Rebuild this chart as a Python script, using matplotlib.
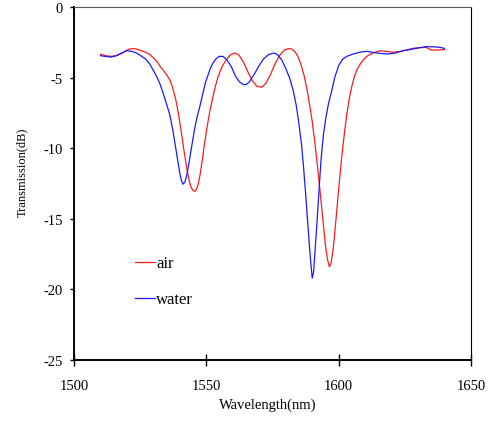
import matplotlib
matplotlib.use("Agg")
import matplotlib.pyplot as plt

# air spectrum (nm, dB)
air_wl = [1510, 1512, 1514, 1516, 1518, 1519.5, 1521, 1522.5, 1524, 1525.5, 1527, 1528.5,
          1530, 1531.3, 1532.5, 1533.8, 1535, 1536.3, 1537.4, 1538.5, 1539.5, 1540.5,
          1541.5, 1542.5, 1543.5, 1544.3, 1545, 1545.7, 1546.3, 1547, 1547.7, 1548.5,
          1549.3, 1550.2, 1551.2, 1552.2, 1553.3, 1554.5, 1556, 1557.5, 1559, 1560.8,
          1562.3, 1564, 1565.7, 1567.3, 1569, 1570.9, 1572.5, 1574.2, 1576, 1577.8,
          1579.5, 1581, 1582.2, 1583.4, 1584.6, 1585.8, 1587, 1588, 1589, 1590, 1591,
          1592, 1593, 1594, 1595, 1595.8, 1596.5, 1597.2, 1598, 1599, 1600, 1601, 1602,
          1603, 1604, 1605, 1606, 1607, 1608.3, 1609.5, 1611, 1613, 1615.6, 1618,
          1620.6, 1623, 1625.5, 1628, 1630.5, 1633, 1635, 1637, 1640]
air_db = [-3.35, -3.45, -3.5, -3.45, -3.3, -3.1, -2.97, -2.95, -3.0, -3.1, -3.2, -3.35,
          -3.6, -3.85, -4.2, -4.5, -4.8, -5.2, -5.8, -6.6, -7.6, -8.8, -10.1, -11.3,
          -12.3, -12.8, -13.0, -13.05, -12.9, -12.5, -11.8, -10.8, -9.7, -8.6, -7.5,
          -6.6, -5.7, -4.9, -4.2, -3.75, -3.4, -3.26, -3.4, -3.9, -4.6, -5.2, -5.6,
          -5.69, -5.4, -4.8, -4.0, -3.4, -3.05, -2.95, -2.97, -3.15, -3.5, -4.1, -4.9,
          -5.8, -6.9, -8.1, -9.6, -11.3, -13.1, -15.0, -16.9, -17.9, -18.4, -18.1,
          -17.0, -15.0, -12.9, -10.9, -9.2, -7.7, -6.5, -5.6, -4.9, -4.4, -4.0, -3.7,
          -3.45, -3.25, -3.1, -3.15, -3.2, -3.15, -3.05, -2.93, -2.88, -2.86, -3.05,
          -3.05, -3.02]

# water spectrum (nm, dB)
water_wl = [1510, 1512, 1514, 1516, 1518, 1520, 1522, 1523.5, 1525, 1527, 1528.5, 1530,
            1531.3, 1532.5, 1533.5, 1534.5, 1535.5, 1536.3, 1537.4, 1538.5, 1539.3, 1540,
            1540.6, 1541.2, 1541.9, 1542.6, 1543.3, 1544, 1544.8, 1545.6, 1546.5, 1547.6,
            1548.6, 1549.6, 1550.5, 1551.4, 1552.4, 1553.5, 1554.8, 1556.3, 1557.8,
            1559.5, 1561, 1562.5, 1564, 1565, 1566.3, 1568, 1569.8, 1571.5, 1573.3,
            1575, 1575.9, 1577, 1578.5, 1580, 1581.6, 1582.8, 1584, 1585, 1586, 1586.8,
            1587.5, 1588.2, 1588.9, 1589.5, 1590, 1590.5, 1591.1, 1591.9, 1592.6, 1593.3,
            1594.2, 1595.2, 1596.2, 1597.3, 1598.5, 1600, 1601.5, 1603, 1605.5, 1608,
            1610.6, 1614, 1618.1, 1621, 1624.4, 1628, 1631, 1633.2, 1635.5, 1638, 1640]
water_db = [-3.45, -3.5, -3.55, -3.45, -3.25, -3.1, -3.15, -3.25, -3.42, -3.68, -4.0,
            -4.5, -4.95, -5.45, -6.0, -6.6, -7.2, -7.7, -8.8, -10.06, -11.0, -11.8,
            -12.3, -12.55, -12.4, -11.9, -11.2, -10.4, -9.5, -8.6, -7.8, -7.0, -6.2,
            -5.4, -4.9, -4.4, -4.0, -3.7, -3.5, -3.5, -3.75, -4.25, -4.9, -5.3, -5.5,
            -5.5, -5.3, -4.8, -4.2, -3.7, -3.4, -3.28, -3.28, -3.4, -3.75, -4.35, -5.1,
            -5.9, -7.0, -8.3, -9.8, -11.5, -13.2, -15.0, -16.8, -18.2, -19.2, -18.8,
            -17.2, -15.0, -12.9, -10.9, -9.1, -7.8, -6.8, -6.0, -5.0, -4.15, -3.7,
            -3.5, -3.33, -3.2, -3.14, -3.25, -3.33, -3.28, -3.1, -2.98, -2.87, -2.81,
            -2.82, -2.85, -2.93]

plt.rcParams['font.family'] = ['Liberation Serif', 'DejaVu Serif']
plt.rcParams['axes.unicode_minus'] = False

fig = plt.figure(figsize=(4.91, 4.27), dpi=100)
ax = fig.add_axes([0.1507, 0.1546, 0.8086, 0.8267])

ax.plot(air_wl, air_db, color='#ff1a1a', lw=0.9, label='air')
ax.plot(water_wl, water_db, color='#1a1aff', lw=0.9, label='water')

ax.set_xlim(1500, 1650)
ax.set_ylim(-25, 0)
ax.set_xticks([1500, 1550, 1600, 1650])
ax.set_yticks([0, -5, -10, -15, -20, -25])
ax.tick_params(axis='x', direction='inout', length=8, width=1, labelsize=10.5, pad=10)
ax.tick_params(axis='y', direction='out', length=3, width=1, labelsize=10.5, pad=5)
ax.spines['left'].set_linewidth(1.4)
ax.spines['bottom'].set_linewidth(1.4)
ax.spines['top'].set_linewidth(0.8)
ax.spines['right'].set_linewidth(0.8)
ax.spines['top'].set_color('#555555')

ax.set_xlabel('Wavelength(nm)', fontsize=10.5, va='center')
ax.xaxis.set_label_coords(0.489, -0.125)
ax.set_ylabel('Transmission(dB)', fontsize=9, va='center')
ax.yaxis.set_label_coords(-0.131, 0.535)

ax.legend(loc='upper left', bbox_to_anchor=(0.138, 0.315), frameon=False, fontsize=12,
          handlelength=1.15, handletextpad=0.08, labelspacing=1.2, borderaxespad=0)

fig.savefig('out.png', dpi=100)
